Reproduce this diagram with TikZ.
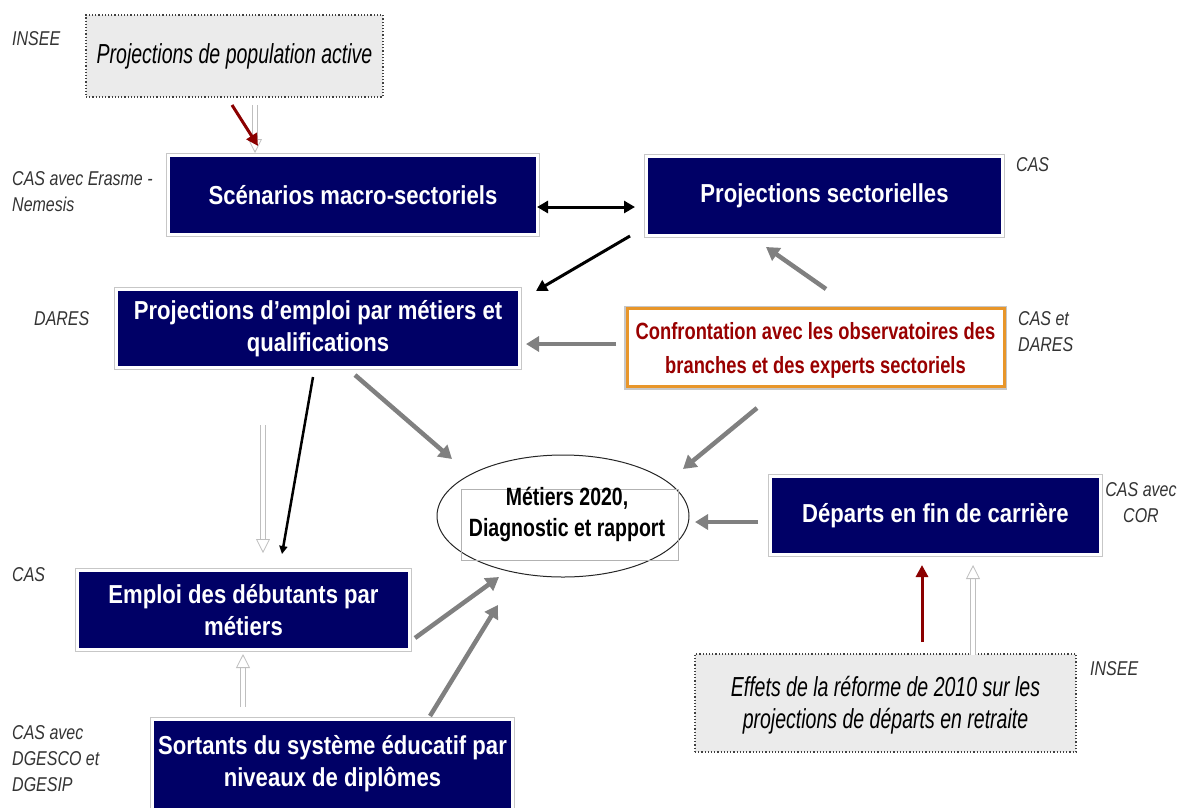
\documentclass[tikz,border=0pt]{standalone}
\usepackage{fontspec}
\setmainfont{Liberation Sans}[FakeStretch=0.8]
\newfontfamily\bfx{Liberation Sans}[FakeStretch=0.85]
\newfontfamily\bfn{Liberation Sans}[FakeStretch=0.78]
\newfontfamily\itx{Liberation Sans}[FakeStretch=0.71]
\usetikzlibrary{arrows.meta,shapes.geometric}
\definecolor{navy}{HTML}{000066}
\definecolor{darkred}{HTML}{8B0000}
\definecolor{confred}{HTML}{990000}
\definecolor{orangeb}{HTML}{E8962A}
\definecolor{lgray}{HTML}{EBEBEB}
\definecolor{agray}{HTML}{808080}
\begin{document}
\begin{tikzpicture}[x=1pt,y=-1pt,
  navybox/.style={fill=navy, draw=white, line width=3pt, inner sep=0pt,
    preaction={draw=black!22, line width=5pt},
    text=white, align=center, font=\bfx\bfseries\fontsize{26}{32}\selectfont},
  dotbox/.style={fill=lgray, draw=black!75, dotted, line width=1.2pt, inner sep=0pt,
    align=center, font=\itx\itshape\fontsize{27.5}{32}\selectfont},
  lab/.style={anchor=north west, inner sep=0pt, align=left, text=black!80,
    font=\itshape\fontsize{20}{26}\selectfont},
  garrow/.style={draw=agray, line width=4.5pt, -{Triangle[length=13pt,width=15pt]}},
  barrow/.style={draw=black, line width=3pt, -{Triangle[length=11pt,width=12pt]}},
  rarrow/.style={draw=darkred, line width=3pt, -{Triangle[length=12pt,width=12pt]}},
  hollow/.style={draw=black!25, line width=0.8pt, double=white, double distance=4pt,
    -{Triangle[length=14pt,width=14pt,fill=white]}}
]
\useasboundingbox (0,0) rectangle (1178,807);
\clip (0,0) rectangle (1178,807);

% boxes
\node[dotbox, minimum width=297pt, minimum height=82pt] (popact) at (234.5,56) {Projections de population active};
\node[navybox, minimum width=369pt, minimum height=79pt] (scen) at (353,195) {Scénarios macro-sectoriels};
\node[navybox, minimum width=356pt, minimum height=79pt] (psect) at (824.5,196) {Projections sectorielles};
\node[navybox, minimum width=403pt, minimum height=78pt] (pemploi) at (318,328.5) {Projections d’emploi par métiers et\\qualifications};
\node[fill=white, draw=orangeb, line width=3pt, inner sep=0pt,
  preaction={draw=black!22, line width=6pt},
  minimum width=377pt, minimum height=78pt] (conf) at (815.5,347.5) {};
\node[align=center, text=confred, inner sep=0pt,
  font=\bfn\bfseries\fontsize{23.5}{34}\selectfont] (conftxt) at (815.5,350.5)
  {Confrontation avec les observatoires des\\branches et des experts sectoriels};
\node[ellipse, draw=black!85, line width=1pt, fill=white, minimum width=252pt, minimum height=122pt] (ell) at (563,516) {};
\node[draw=black!30, line width=0.8pt, minimum width=217pt, minimum height=71pt, inner sep=0pt] (metiers) at (569.5,524.5) {};
\node[align=center, inner sep=0pt, font=\bfn\bfseries\fontsize{25}{31}\selectfont] (metierstxt) at (567,514)
  {Métiers 2020,\\Diagnostic et rapport};
\node[navybox, minimum width=330pt, minimum height=78pt] (depart) at (935.5,515.5) {Départs en fin de carrière};
\node[navybox, minimum width=332pt, minimum height=79pt] (deb) at (243.5,610) {Emploi des débutants par\\métiers};
\node[navybox, minimum width=360pt, minimum height=120pt, anchor=north] (sort) at (332.5,717.5) {};
\node[text=white, align=center, font=\bfx\bfseries\fontsize{26}{32}\selectfont] (sorttxt) at (332.5,764) {Sortants du système éducatif par\\niveaux de diplômes};
\node[dotbox, minimum width=381pt, minimum height=98pt] (effets) at (885.5,703) {};
\node[align=center, inner sep=0pt, font=\itx\itshape\fontsize{27.5}{32}\selectfont] (effetstxt) at (885.5,705)
  {Effets de la réforme de 2010 sur les\\projections de départs en retraite};

% labels
\node[lab] (l1) at (12,31) {INSEE};
\node[lab] (l2) at (12,171) {CAS avec Erasme -\\Nemesis};
\node[lab] (l3) at (1016,157) {CAS};
\node[lab] (l4) at (34,311) {DARES};
\node[lab] (l5) at (1018,311) {CAS et\\DARES};
\node[lab, align=center, anchor=north] (l6) at (1141,482) {CAS avec\\COR};
\node[lab] (l7) at (1090,661) {INSEE};
\node[lab] (l8) at (12,567) {CAS};
\node[lab] (l9) at (12,725) {CAS avec\\DGESCO et\\DGESIP};

% connector endpoints
\coordinate (h1a) at (255,105); \coordinate (h1b) at (255,153);
\coordinate (r1a) at (232,105); \coordinate (r1b) at (258,146);
\coordinate (d1a) at (537,207); \coordinate (d1b) at (635,207);
\coordinate (b1a) at (630,236); \coordinate (b1b) at (536,291);
\coordinate (g1a) at (826,289); \coordinate (g1b) at (766,247);
\coordinate (g2a) at (616,344); \coordinate (g2b) at (526,344);
\coordinate (b2a) at (313,377); \coordinate (b2b) at (282,554);
\coordinate (h2a) at (263,425); \coordinate (h2b) at (263,553);
\coordinate (g3a) at (355,375); \coordinate (g3b) at (452,459);
\coordinate (g4a) at (757,408); \coordinate (g4b) at (683,469);
\coordinate (g5a) at (758,522); \coordinate (g5b) at (695,522);
\coordinate (r2a) at (922,642); \coordinate (r2b) at (922,565);
\coordinate (h3a) at (973,655); \coordinate (h3b) at (973,565);
\coordinate (g6a) at (415,638); \coordinate (g6b) at (499,577);
\coordinate (h4a) at (243,707); \coordinate (h4b) at (243,654);
\coordinate (g7a) at (430,716); \coordinate (g7b) at (498,605);

% connectors
\draw[hollow] (h1a) -- (h1b);
\draw[rarrow] (r1a) -- (r1b);
\draw[draw=black, line width=3pt, {Triangle[length=11pt,width=12pt]}-{Triangle[length=11pt,width=12pt]}] (d1a) -- (d1b);
\draw[barrow] (b1a) -- (b1b);
\draw[garrow] (g1a) -- (g1b);
\draw[garrow] (g2a) -- (g2b);
\draw[draw=black, line width=2.5pt, -{Triangle[length=8pt,width=8pt]}] (b2a) -- (b2b);
\draw[hollow] (h2a) -- (h2b);
\draw[garrow] (g3a) -- (g3b);
\draw[garrow] (g4a) -- (g4b);
\draw[garrow] (g5a) -- (g5b);
\draw[rarrow] (r2a) -- (r2b);
\draw[hollow] (h3a) -- (h3b);
\draw[garrow] (g6a) -- (g6b);
\draw[hollow] (h4a) -- (h4b);
\draw[garrow] (g7a) -- (g7b);
\end{tikzpicture}
\end{document}
